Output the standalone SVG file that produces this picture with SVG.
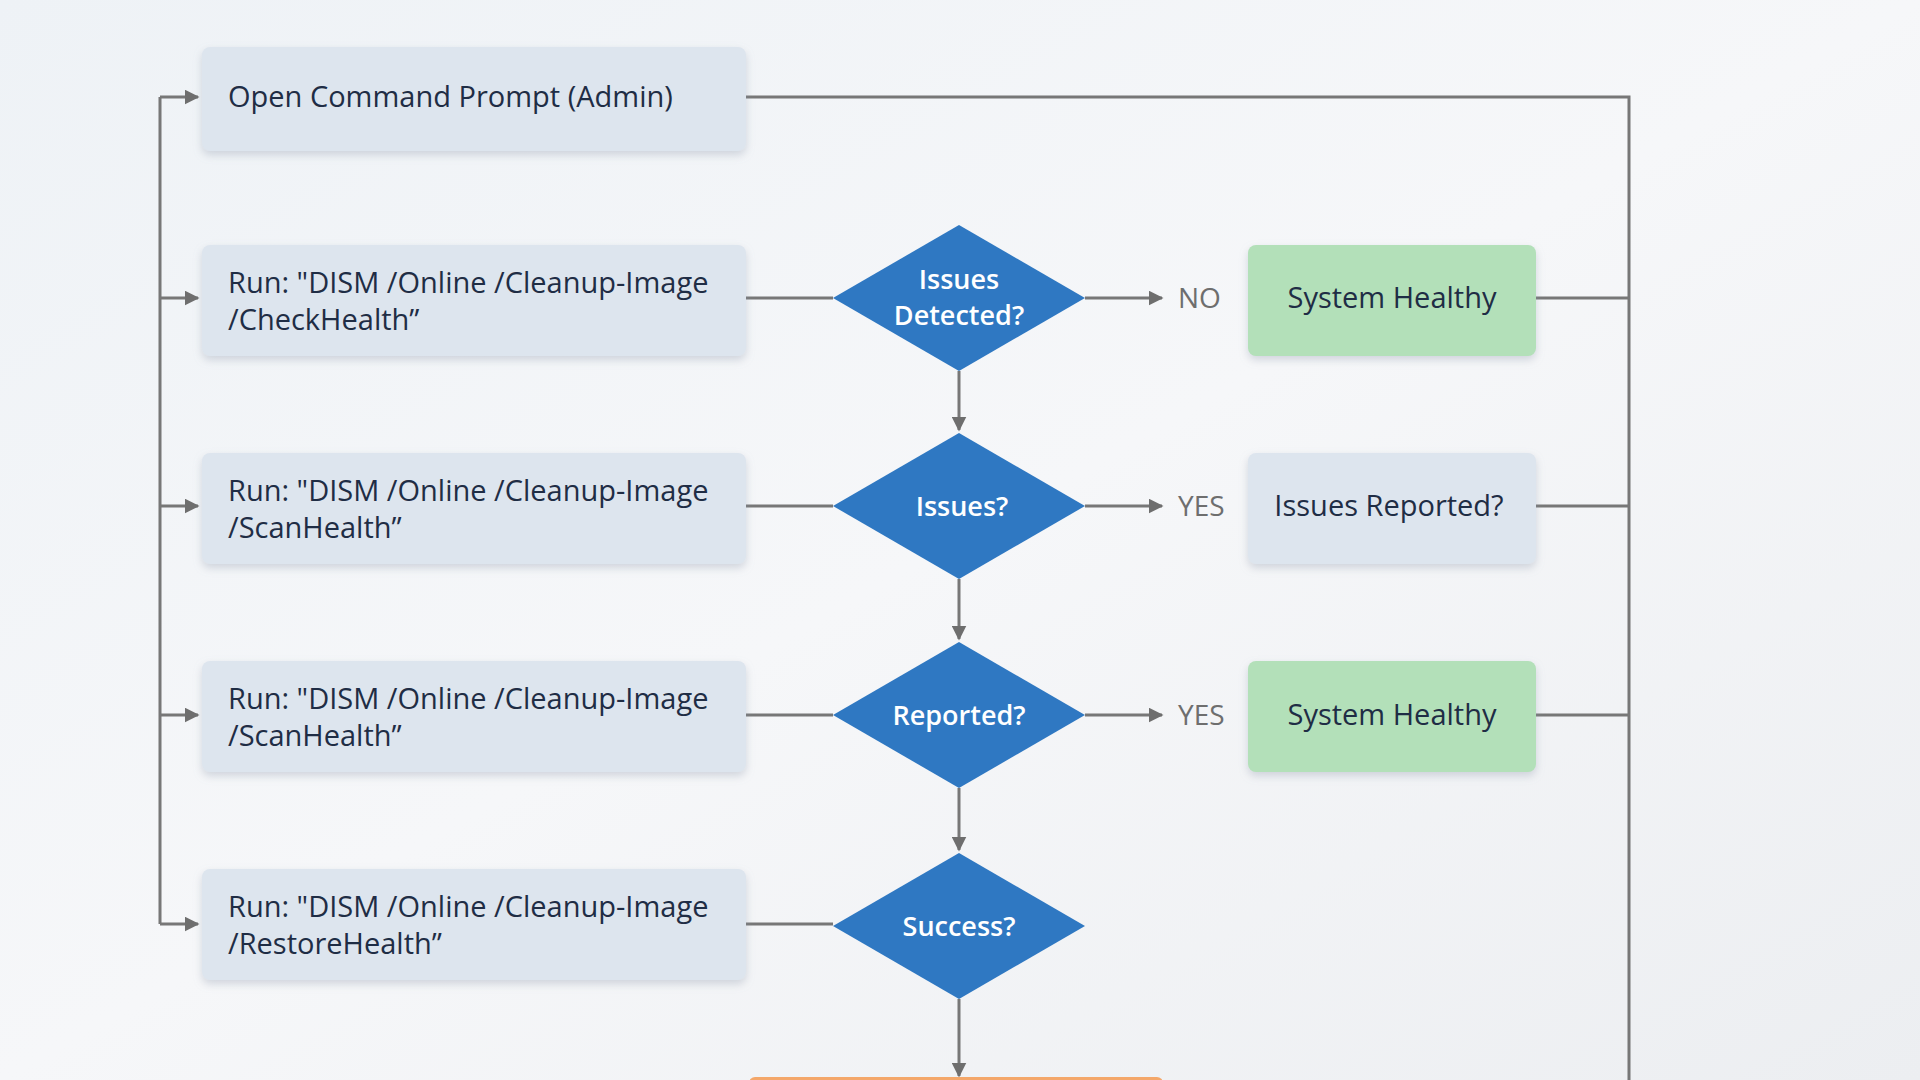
<svg xmlns="http://www.w3.org/2000/svg" width="1920" height="1080" viewBox="0 0 1920 1080">
<defs>
<linearGradient id="bg" x1="0" y1="0" x2="1" y2="1"><stop offset="0" stop-color="#eef2f6"/><stop offset="0.5" stop-color="#f6f7f9"/><stop offset="1" stop-color="#eceef1"/></linearGradient>
<filter id="sh" x="-10%" y="-20%" width="120%" height="150%"><feDropShadow dx="0" dy="4" stdDeviation="4" flood-color="#8a96a8" flood-opacity="0.35"/></filter>
<marker id="ar" viewBox="0 0 10 10" refX="9" refY="5" markerWidth="5" markerHeight="5" orient="auto"><path d="M0,0 L10,5 L0,10 z" fill="#6e6e6e"/></marker>
<style>
.box{fill:#dde5ee;filter:url(#sh)}
.green{fill:#b3e0b9;filter:url(#sh)}
.dia{fill:#2f78c2}
.t{font-family:"Open Sans","Liberation Sans",sans-serif;font-size:29px;fill:#1f2d45}
.d{font-family:"Open Sans","Liberation Sans",sans-serif;font-size:27px;fill:#fff;text-anchor:middle;font-weight:600}
.l{font-family:"Open Sans","Liberation Sans",sans-serif;font-size:28px;fill:#6e6e6e}
.c{stroke:#777;stroke-width:3;fill:none}
.ca{stroke:#777;stroke-width:3;fill:none;marker-end:url(#ar)}
</style>
</defs>
<rect width="1920" height="1080" fill="url(#bg)"/>
<g id="connectors">
<path class="c" d="M160,97 V924"/>
<path class="ca" d="M160,97 H198"/>
<path class="ca" d="M160,298 H198"/>
<path class="ca" d="M160,506 H198"/>
<path class="ca" d="M160,715 H198"/>
<path class="ca" d="M160,924 H198"/>
<path class="c" d="M746,97 H1629 V1080"/>
<path class="c" d="M746,298 H833"/>
<path class="c" d="M746,506 H833"/>
<path class="c" d="M746,715 H833"/>
<path class="c" d="M746,924 H833"/>
<path class="ca" d="M1085,298 H1162"/>
<path class="ca" d="M1085,506 H1162"/>
<path class="ca" d="M1085,715 H1162"/>
<path class="ca" d="M959,371 V430"/>
<path class="ca" d="M959,579 V639"/>
<path class="ca" d="M959,788 V850"/>
<path class="ca" d="M959,999 V1076"/>
<path class="c" d="M1536,298 H1629"/>
<path class="c" d="M1536,506 H1629"/>
<path class="c" d="M1536,715 H1629"/>
<text class="l" x="1178" y="308">NO</text>
<text class="l" x="1178" y="516">YES</text>
<text class="l" x="1178" y="725">YES</text>
</g>
<g id="n1"><rect class="box" x="202" y="47" width="544" height="104" rx="8"/><text class="t" x="228" y="107">Open Command Prompt (Admin)</text></g>
<g id="n2"><rect class="box" x="202" y="245" width="544" height="111" rx="8"/><text class="t" x="228" y="293">Run: "DISM /Online /Cleanup-Image</text><text class="t" x="228" y="330">/CheckHealth”</text></g>
<g id="n3"><rect class="box" x="202" y="453" width="544" height="111" rx="8"/><text class="t" x="228" y="501">Run: "DISM /Online /Cleanup-Image</text><text class="t" x="228" y="538">/ScanHealth”</text></g>
<g id="n4"><rect class="box" x="202" y="661" width="544" height="111" rx="8"/><text class="t" x="228" y="709">Run: "DISM /Online /Cleanup-Image</text><text class="t" x="228" y="746">/ScanHealth”</text></g>
<g id="n5"><rect class="box" x="202" y="869" width="544" height="111" rx="8"/><text class="t" x="228" y="917">Run: "DISM /Online /Cleanup-Image</text><text class="t" x="228" y="954">/RestoreHealth”</text></g>
<g id="d1"><path class="dia" d="M959,225 L1085,298 L959,371 L833,298 z"/><text class="d" x="959" y="289">Issues</text><text class="d" x="959" y="325">Detected?</text></g>
<g id="d2"><path class="dia" d="M959,433 L1085,506 L959,579 L833,506 z"/><text class="d" x="962" y="516">Issues?</text></g>
<g id="d3"><path class="dia" d="M959,642 L1085,715 L959,788 L833,715 z"/><text class="d" x="959" y="725">Reported?</text></g>
<g id="d4"><path class="dia" d="M959,853 L1085,926 L959,999 L833,926 z"/><text class="d" x="959" y="936">Success?</text></g>
<g id="r1"><rect class="green" x="1248" y="245" width="288" height="111" rx="8"/><text class="t" x="1392" y="308" text-anchor="middle">System Healthy</text></g>
<g id="r2"><rect class="box" x="1248" y="453" width="288" height="111" rx="8"/><text class="t" x="1389" y="516" text-anchor="middle">Issues Reported?</text></g>
<g id="r3"><rect class="green" x="1248" y="661" width="288" height="111" rx="8"/><text class="t" x="1392" y="725" text-anchor="middle">System Healthy</text></g>
<g id="o1"><rect x="749" y="1077" width="414" height="40" rx="6" fill="#f4a76a"/></g>
</svg>
